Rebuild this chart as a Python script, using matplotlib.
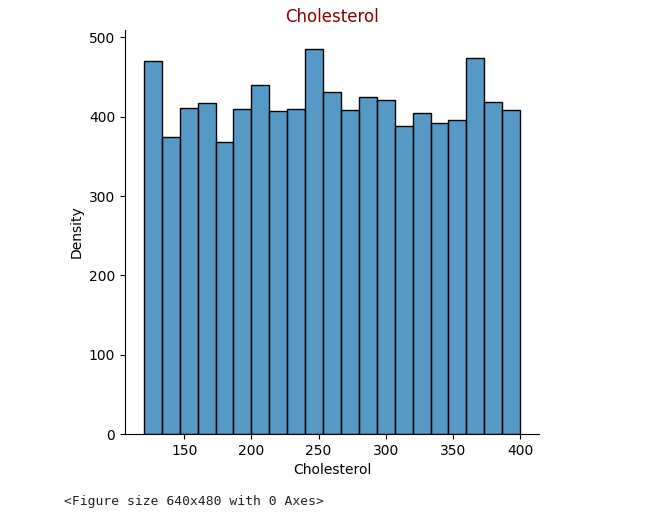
import numpy as np
import matplotlib
matplotlib.use("Agg")
import matplotlib.pyplot as plt
import seaborn as sns

# Data
bin_start = 120
bin_end = 400
n_bins = 21
counts = [470, 375, 411, 417, 368, 410, 440, 407, 410, 485, 431,
          408, 425, 421, 388, 404, 392, 396, 474, 418, 408]
title = "Cholesterol"
xlabel = "Cholesterol"
ylabel = "Density"
footer = "<Figure size 640x480 with 0 Axes>"

edges = np.linspace(bin_start, bin_end, n_bins + 1)
centers = (edges[:-1] + edges[1:]) / 2

fig = plt.figure(figsize=(6.46, 5.18), dpi=100)
W, H = 646, 518
ax = fig.add_axes([125 / W, (H - 434) / H, 414 / W, (434 - 30) / H])
sns.histplot(x=list(centers), weights=list(counts), bins=n_bins,
             binrange=(bin_start, bin_end), ax=ax)
ax.set_title(title, color="#8B0000", fontsize=12)
ax.set_xlabel(xlabel)
ax.set_ylabel(ylabel)
ax.spines["top"].set_visible(False)
ax.spines["right"].set_visible(False)

fig.text(64 / W, 1 - 502 / H, footer, family="DejaVu Sans Mono",
         fontsize=9.4, va="center", ha="left", color="#222222")

fig.savefig("out.png", dpi=100)
